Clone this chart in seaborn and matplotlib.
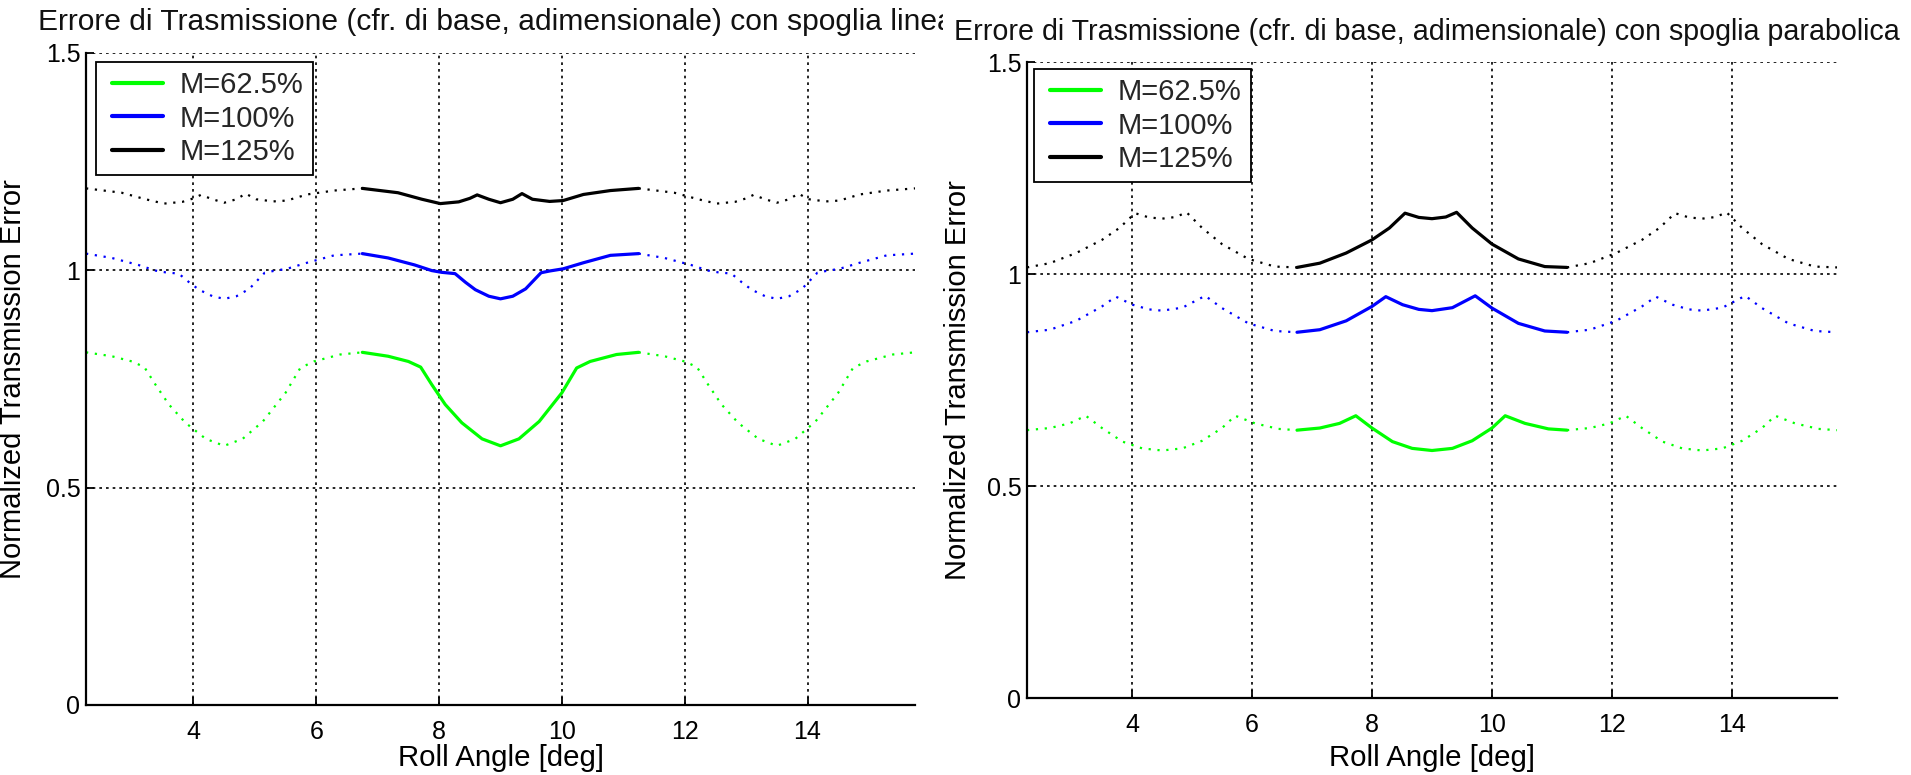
import matplotlib
matplotlib.use("Agg")
import matplotlib.pyplot as plt
import seaborn as sns
import pandas as pd
from matplotlib.transforms import Bbox, TransformedBbox
from matplotlib.legend_handler import HandlerLine2D

# ---------------------------------------------------------------------------
# Transmission error over one mesh cycle (solid, central tooth pair).
# Neighbouring tooth pairs repeat the same cycle one angular pitch earlier/later
# and are drawn dotted.
# ---------------------------------------------------------------------------
pitch_deg = 4.5
neighbour_shifts = [-pitch_deg, pitch_deg]
x_ticks = [4, 6, 8, 10, 12, 14]
y_ticks = [0, 0.5, 1, 1.5]
y_tick_labels = ["0", "0.5", "1", "1.5"]
series_labels = ["M=62.5%", "M=100%", "M=125%"]
series_colors = ["#00ff00", "#0000ff", "#000000"]

# linear tip relief ("spoglia lineare")
lin_angle_g = [6.75, 7.17, 7.50, 7.70, 7.88, 8.10, 8.37, 8.70, 9.00, 9.30, 9.63, 10.00, 10.24, 10.46, 10.89, 11.25]
lin_te_g = [0.811, 0.802, 0.790, 0.777, 0.737, 0.691, 0.649, 0.612, 0.596, 0.612, 0.652, 0.718, 0.775, 0.790, 0.806, 0.811]
lin_angle_b = [6.75, 7.17, 7.60, 7.88, 8.04, 8.26, 8.43, 8.59, 8.81, 9.00, 9.20, 9.41, 9.66, 9.80, 10.02, 10.35, 10.79, 11.25]
lin_te_b = [1.038, 1.028, 1.012, 0.999, 0.995, 0.992, 0.972, 0.955, 0.940, 0.934, 0.940, 0.957, 0.994, 0.998, 1.003, 1.017, 1.034, 1.038]
lin_angle_k = [6.75, 7.33, 7.72, 8.02, 8.32, 8.50, 8.62, 8.81, 9.00, 9.20, 9.35, 9.52, 9.80, 10.02, 10.35, 10.79, 11.25]
lin_te_k = [1.188, 1.178, 1.163, 1.153, 1.157, 1.165, 1.173, 1.163, 1.155, 1.163, 1.176, 1.163, 1.158, 1.160, 1.174, 1.183, 1.188]

# parabolic tip relief ("spoglia parabolica")
par_angle_g = [6.75, 7.13, 7.46, 7.73, 8.00, 8.34, 8.67, 9.00, 9.34, 9.67, 10.00, 10.22, 10.55, 10.94, 11.25]
par_te_g = [0.632, 0.637, 0.648, 0.666, 0.637, 0.605, 0.589, 0.584, 0.589, 0.607, 0.637, 0.666, 0.648, 0.635, 0.632]
par_angle_b = [6.75, 7.13, 7.57, 8.00, 8.23, 8.51, 8.78, 9.00, 9.34, 9.72, 10.00, 10.44, 10.88, 11.25]
par_te_b = [0.863, 0.869, 0.890, 0.924, 0.947, 0.928, 0.917, 0.914, 0.921, 0.949, 0.920, 0.884, 0.866, 0.863]
par_angle_k = [6.75, 7.13, 7.57, 8.00, 8.29, 8.55, 8.78, 9.00, 9.23, 9.41, 9.67, 10.00, 10.44, 10.88, 11.25]
par_te_k = [1.016, 1.026, 1.050, 1.081, 1.109, 1.144, 1.134, 1.131, 1.135, 1.146, 1.109, 1.071, 1.036, 1.018, 1.016]

title_lin = "Errore di Trasmissione (cfr. di base, adimensionale) con spoglia lineare"
title_par = "Errore di Trasmissione (cfr. di base, adimensionale) con spoglia parabolica"
x_label = "Roll Angle [deg]"
y_label = "Normalized Transmission Error"

sns.set_theme(style="white")
plt.rcParams["font.family"] = ["Liberation Sans", "DejaVu Sans"]

W, H = 1911, 775
fig = plt.figure(figsize=(W / 100, H / 100), dpi=100)
fig.patch.set_facecolor("white")


class InsetLine(HandlerLine2D):
    """Legend line that starts a little to the right of the handle box."""

    def create_artists(self, legend, orig_handle, xdescent, ydescent, width, height,
                       fontsize, trans):
        inset = 0.12 * width
        return super().create_artists(legend, orig_handle, xdescent - inset, ydescent,
                                      width - inset, height, fontsize, trans)


def px_axes(left, top, right, bottom):
    return fig.add_axes([left / W, 1 - bottom / H, (right - left) / W, (bottom - top) / H])


def draw_panel(ax, curves, title, title_x, title_size, legend_anchor):
    for (angle, te), color, label in zip(curves, series_colors, series_labels):
        central = pd.DataFrame({"angle": angle, "te": te})
        sns.lineplot(data=central, x="angle", y="te", ax=ax, color=color, lw=2.3,
                     label=label, sort=False, estimator=None)
        for shift in neighbour_shifts:
            side = pd.DataFrame({"angle": [a + shift for a in angle], "te": te})
            sns.lineplot(data=side, x="angle", y="te", ax=ax, color=color, lw=1.6,
                         linestyle=(0, (1, 3)), sort=False, estimator=None)

    ax.set_xlim(2.25, 15.75)
    ax.set_ylim(0, 1.5)
    ax.set_xticks(x_ticks)
    ax.set_xticklabels([str(t) for t in x_ticks])
    ax.set_yticks(y_ticks)
    ax.set_yticklabels(y_tick_labels)
    ax.grid(True, color="black", linestyle=(0, (1.6, 2.4)), lw=1.2)
    for side in ["top", "right"]:
        ax.spines[side].set_visible(False)
    for side in ["left", "bottom"]:
        ax.spines[side].set_color("black")
        ax.spines[side].set_linewidth(1.6)
    ax.tick_params(axis="both", direction="in", length=6, width=1.3, colors="black",
                   labelsize=18, left=True, bottom=True)
    ax.tick_params(axis="x", pad=11)
    ax.tick_params(axis="y", pad=4)
    ax.set_xlabel(x_label, fontsize=21.2, color="black")
    ax.set_ylabel(y_label, fontsize=21, color="black")
    t = ax.set_title(title, fontsize=title_size, color="#111111", pad=16, loc="left",
                     x=title_x)

    leg = ax.legend(loc="upper left", bbox_to_anchor=legend_anchor, borderaxespad=0,
                    fontsize=21, frameon=True, fancybox=False, framealpha=1,
                    edgecolor="black", handlelength=2.0, handletextpad=0.58,
                    borderpad=0.3, labelspacing=0.2,
                    handler_map={plt.Line2D: InsetLine()})
    leg.get_frame().set_linewidth(1.3)
    for line in leg.get_lines():
        line.set_linewidth(3.0)
    return t


ax1 = px_axes(86, 52.7, 915, 705)
ax2 = px_axes(1027, 62.3, 1837, 698)

t1 = draw_panel(ax1, [(lin_angle_g, lin_te_g), (lin_angle_b, lin_te_b), (lin_angle_k, lin_te_k)],
                title_lin, (38 - 86) / 829, 21.6, (10 / 829, 1 - 9.3 / 652.3))
t2 = draw_panel(ax2, [(par_angle_g, par_te_g), (par_angle_b, par_te_b), (par_angle_k, par_te_k)],
                title_par, (954 - 1027) / 810, 20.6, (7 / 810, 1 - 6.7 / 635.7))

ax1.yaxis.set_label_coords((27 - 86) / 829, 0.5)
ax2.yaxis.set_label_coords((972 - 1027) / 810, 0.5)
ax1.xaxis.set_label_coords(0.5, -(744 - 705) / 652.3)
ax2.xaxis.set_label_coords(0.5, -(744 - 698) / 635.7)

# the left-hand title runs under the right-hand panel and is cut there
t1.set_clip_on(True)
t1.set_clip_box(TransformedBbox(Bbox([[0, 0], [943 / W, 1]]), fig.transFigure))

fig.savefig("out.png", dpi=100, facecolor="white")
